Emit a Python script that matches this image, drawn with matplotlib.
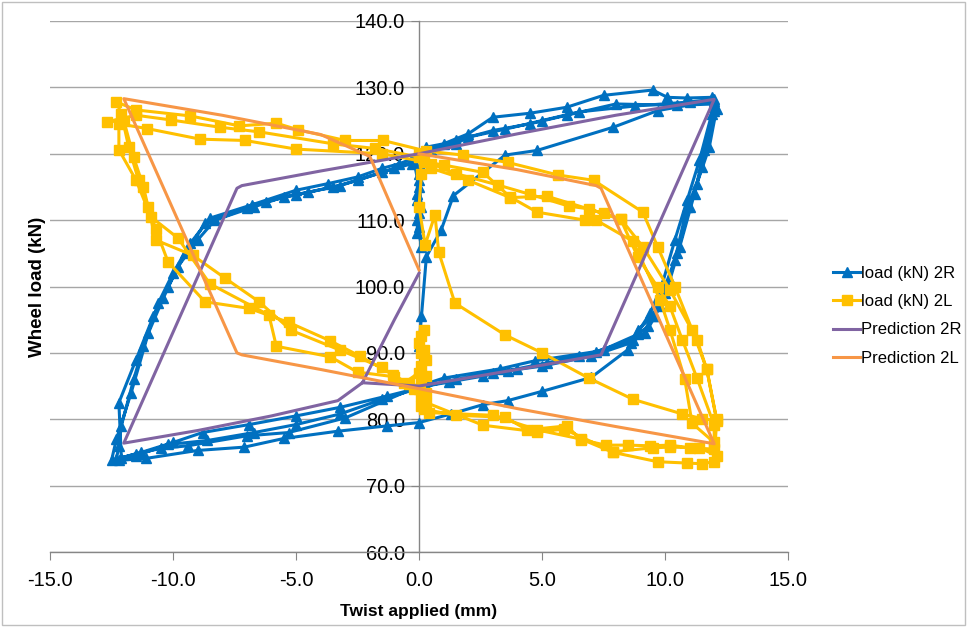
import matplotlib
matplotlib.use("Agg")
import matplotlib.pyplot as plt
from matplotlib.ticker import MultipleLocator, FuncFormatter
from matplotlib.patches import Rectangle

plt.rcParams['font.family'] = ['Liberation Sans', 'DejaVu Sans']

r_start = [(0.1, 88.0), (0.0, 91.0), (0.1, 95.5), (0.3, 104.5), (0.9, 108.5), (1.4, 113.7),
           (3.5, 119.8), (4.8, 120.5), (7.9, 124.0), (9.7, 126.5), (12.0, 128.0)]
r_loop1 = [(12.1, 126.8), (11.8, 121.0), (11.3, 115.5), (10.9, 112.0), (10.4, 104.0), (10.0, 99.0),
           (9.6, 95.5), (9.2, 93.0), (8.6, 91.5), (7.0, 89.5), (5.0, 88.0), (3.6, 87.3), (2.6, 86.5),
           (1.2, 85.6), (0.3, 85.0), (-1.3, 83.5), (-3.2, 81.8), (-5.0, 80.5), (-6.9, 79.2),
           (-8.8, 78.0), (-10.0, 76.5), (-11.3, 75.0), (-12.3, 74.0),
           (-12.2, 76.0), (-12.1, 79.0), (-11.6, 86.0), (-11.2, 91.0), (-10.6, 97.5), (-10.0, 102.0),
           (-9.3, 106.5), (-8.5, 110.3), (-6.8, 112.3), (-5.0, 114.5), (-3.7, 115.5), (-2.5, 116.5),
           (-1.5, 117.8), (-0.8, 118.5), (-0.3, 119.2), (0.0, 117.0), (-0.1, 114.0), (0.0, 111.0),
           (-0.1, 108.0), (0.1, 112.0), (0.0, 116.0), (0.1, 119.5)]
r_loop2 = [(0.5, 120.5), (1.5, 121.5), (2.0, 122.5), (3.5, 123.7), (5.0, 125.0), (6.5, 126.3),
           (8.8, 127.2), (11.0, 127.8), (12.0, 128.2), (12.0, 127.0), (11.6, 120.5), (11.2, 114.0),
           (10.6, 106.0), (10.2, 101.0), (9.8, 97.0), (9.3, 94.0), (8.9, 92.8), (7.5, 90.5),
           (6.5, 89.5), (5.2, 88.5), (4.0, 87.6), (3.0, 87.0), (1.5, 86.0), (0.3, 85.0),
           (-1.5, 83.0), (-3.2, 80.8), (-5.0, 79.2), (-6.7, 78.0), (-8.6, 76.8), (-10.2, 76.2),
           (-11.5, 74.5), (-12.1, 74.2), (-12.2, 82.5), (-11.5, 89.0), (-10.8, 95.5), (-10.2, 100.0),
           (-9.5, 105.0), (-8.7, 109.5), (-7.0, 111.8), (-6.2, 112.8), (-5.0, 113.8), (-3.5, 115.0),
           (-2.5, 116.0), (-1.0, 117.8), (-0.2, 118.8), (0.0, 115.0), (-0.1, 110.0), (0.1, 106.0),
           (0.0, 109.0), (-0.1, 113.0), (0.1, 118.0)]
r_loop3 = [(0.3, 120.6), (1.5, 122.0), (3.0, 123.5), (4.5, 124.5), (6.0, 125.8), (8.0, 127.5),
           (10.5, 127.3), (12.0, 127.5), (11.9, 126.0), (11.4, 119.0), (10.9, 113.0), (10.4, 107.0),
           (9.9, 100.5), (9.4, 96.0), (8.7, 92.0), (7.2, 90.2), (4.7, 88.8), (3.3, 87.6), (1.0, 86.2),
           (0.0, 85.0), (-3.0, 80.2), (-5.3, 78.0), (-7.0, 77.5), (-9.4, 76.0), (-10.5, 75.6),
           (-11.5, 74.8), (-12.5, 73.8), (-12.3, 77.0), (-11.7, 84.0), (-11.0, 93.0), (-10.4, 98.2),
           (-9.8, 103.0), (-9.0, 107.0), (-8.3, 110.0), (-6.7, 112.0), (-5.5, 113.5), (-4.5, 114.2),
           (-3.2, 115.2), (-1.5, 117.2), (-0.3, 118.5), (0.1, 119.8)]
r_loop4 = [(0.3, 121.0), (1.0, 121.5), (2.0, 123.0), (3.0, 125.5), (4.5, 126.1), (6.0, 127.0),
           (7.5, 128.8), (9.5, 129.6), (10.1, 128.5), (10.9, 128.4), (11.9, 128.5), (12.0, 126.5),
           (11.5, 118.0), (11.0, 112.0), (10.5, 105.0), (10.0, 100.0), (9.5, 95.5), (8.9, 93.5),
           (8.5, 90.5), (7.0, 86.3), (5.0, 84.2), (3.6, 82.8), (2.6, 82.2), (1.3, 80.8), (0.0, 79.5),
           (-1.3, 79.0), (-3.3, 78.2), (-5.5, 77.1), (-7.1, 75.8), (-9.0, 75.3), (-11.1, 74.1),
           (-12.2, 73.8)]

# Measured load 2L (yellow squares)
l_start = [(0.0, 120.0), (0.1, 117.0), (0.0, 112.0), (0.25, 106.3), (0.65, 110.8), (0.8, 105.2),
           (1.46, 97.5), (3.5, 92.7), (5.0, 90.0), (6.9, 86.2), (8.7, 83.0), (10.7, 80.8),
           (11.5, 80.1), (12.1, 79.8)]
l_loop1 = [(11.7, 87.5), (11.1, 93.5), (10.4, 100.0), (9.7, 106.0), (9.1, 111.2), (7.1, 116.0),
           (5.65, 116.8), (3.6, 118.7), (1.8, 119.8), (0.3, 120.4), (-1.46, 122.0), (-3.0, 122.0),
           (-4.9, 123.6), (-5.8, 124.6), (-7.3, 124.2), (-9.3, 125.7), (-11.5, 126.6), (-12.3, 127.8),
           (-12.1, 126.0), (-11.8, 121.0), (-11.4, 116.0), (-11.0, 112.0), (-10.7, 108.6),
           (-10.2, 103.7), (-8.7, 97.7), (-6.9, 96.7), (-5.3, 94.6), (-3.6, 91.8), (-2.4, 89.5),
           (-1.05, 86.7), (-0.4, 85.3), (0.1, 88.0), (0.0, 91.5), (0.2, 93.5), (0.1, 90.0),
           (0.3, 86.5), (0.1, 83.5), (0.2, 81.5), (1.5, 80.6), (3.5, 80.3), (4.4, 78.4), (6.0, 79.0),
           (6.6, 76.9), (7.6, 76.1), (8.5, 76.1), (9.4, 76.0), (10.2, 76.1), (11.0, 75.7), (12.0, 75.5)]
l_loop2 = [(12.0, 79.1), (11.3, 86.2), (10.7, 92.0), (10.2, 97.0), (9.7, 99.9), (8.9, 104.4),
           (8.2, 110.1), (6.9, 111.7), (6.1, 112.1), (4.5, 113.9), (3.2, 115.3), (1.5, 117.0),
           (0.5, 118.5), (0.0, 119.5), (-1.8, 120.8), (-3.5, 121.5), (-6.5, 123.3), (-8.1, 124.0),
           (-10.1, 125.1), (-11.5, 125.8), (-12.7, 124.8), (-12.0, 125.0), (-11.6, 119.5),
           (-11.2, 115.0), (-10.7, 107.0), (-9.2, 104.7), (-7.9, 101.3), (-6.5, 97.7), (-5.2, 93.4),
           (-3.2, 90.4), (-1.5, 87.8), (-0.6, 85.5), (0.0, 87.0), (0.2, 90.5), (0.1, 92.5),
           (0.3, 89.0), (0.0, 84.5), (0.3, 82.5), (2.6, 79.1), (4.8, 78.1), (5.9, 78.5), (7.9, 75.1),
           (9.5, 75.7), (10.2, 75.8), (11.4, 75.7), (12.1, 74.5)]
l_loop3 = [(12.0, 76.5), (11.1, 79.4), (10.8, 86.1), (10.2, 93.5), (9.8, 98.0), (8.7, 106.8),
           (7.2, 110.0), (6.75, 110.0), (4.8, 111.2), (3.7, 113.5), (2.6, 117.2), (1.0, 118.3),
           (0.2, 118.8), (-1.5, 120.0), (-5.0, 120.7), (-7.07, 122.0), (-8.9, 122.2), (-11.06, 123.8),
           (-12.2, 124.5), (-12.2, 120.6), (-11.5, 116.0), (-10.9, 110.5), (-9.8, 107.3),
           (-8.5, 100.4), (-6.1, 95.7), (-5.8, 91.0), (-3.6, 89.4), (-2.5, 87.1), (-1.0, 86.4),
           (-0.2, 84.5), (0.1, 86.0), (0.3, 84.0), (0.1, 82.0), (0.4, 81.0), (3.0, 80.6), (4.8, 78.4),
           (6.6, 77.0), (7.9, 75.0), (9.7, 73.6), (10.9, 73.4), (11.5, 73.3), (12.0, 73.6)]
l_loop4 = [(12.1, 80.0), (11.7, 87.5), (11.3, 92.0), (10.2, 99.5), (9.1, 106.0), (8.2, 110.2),
           (7.5, 111.0), (5.2, 113.6), (3.7, 113.4), (2.0, 116.0), (0.5, 117.8)]

# Predictions (lines only)
pred_r = [(0.0, 102.0), (-1.0, 95.0), (-2.3, 85.5), (-3.3, 82.8), (-6.0, 80.5), (-9.0, 78.3),
          (-12.0, 76.4), (-7.4, 114.8), (-7.2, 115.2), (-4.0, 117.4), (0.0, 120.0), (4.0, 123.0),
          (8.0, 125.8), (12.0, 128.2), (7.4, 89.7), (4.0, 87.5), (0.0, 85.0), (-2.3, 85.5)]
pred_l = [(0.0, 102.5), (-2.0, 119.6), (-4.0, 122.9), (-8.0, 125.8), (-12.0, 128.3), (-7.4, 90.0),
          (-7.2, 89.7), (-4.0, 87.5), (0.0, 84.6), (4.0, 81.6), (8.0, 78.9), (12.0, 76.3),
          (7.4, 114.8), (7.2, 115.2), (4.0, 117.6), (0.0, 120.0)]

series_names = ['load (kN) 2R', 'load (kN) 2L', 'Prediction 2R', 'Prediction 2L']


def xs(pts):
    return [p[0] for p in pts]


def ys(pts):
    return [p[1] for p in pts]


r_all = r_start + r_loop1 + r_loop2 + r_loop3 + r_loop4
l_all = l_start + l_loop1 + l_loop2 + l_loop3 + l_loop4

fig = plt.figure(figsize=(9.67, 6.27), dpi=100)
ax = fig.add_axes([50 / 967, 1 - 552 / 627, 738 / 967, 531 / 627])

ax.plot(xs(r_all), ys(r_all), color='#0070C0', lw=2.2, marker='^', ms=7,
        label=series_names[0], zorder=3)
ax.plot(xs(l_all), ys(l_all), color='#FFC000', lw=2.2, marker='s', ms=7,
        label=series_names[1], zorder=3)
ax.plot(xs(pred_r), ys(pred_r), color='#8064A2', lw=2.2, label=series_names[2], zorder=4)
ax.plot(xs(pred_l), ys(pred_l), color='#F79646', lw=2.2, label=series_names[3], zorder=4)

ax.set_xlim(-15, 15)
ax.set_ylim(60, 140)
ax.xaxis.set_major_locator(MultipleLocator(5))
ax.yaxis.set_major_locator(MultipleLocator(10))
ax.xaxis.set_major_formatter(FuncFormatter(lambda v, p: f'{v:.1f}'))
ax.yaxis.set_major_formatter(FuncFormatter(lambda v, p: f'{v:.1f}'))

ax.spines['top'].set_visible(False)
ax.spines['right'].set_visible(False)
ax.spines['left'].set_position(('data', 0))
for s in ['left', 'bottom']:
    ax.spines[s].set_color('#868686')
    ax.spines[s].set_linewidth(1.0)

ax.grid(True, axis='y', color='#a6a6a6', lw=1.0)
ax.set_axisbelow(True)
ax.tick_params(axis='both', direction='out', length=6, color='#868686', labelsize=14.5)
ax.tick_params(axis='x', pad=8)
ax.tick_params(axis='y', pad=4)

ax.set_xlabel('Twist applied (mm)', fontsize=12.5, fontweight='bold')
ax.set_ylabel('Wheel load (kN)', fontsize=13.5, fontweight='bold')
ax.xaxis.set_label_coords(0.5, -0.097)
ax.yaxis.set_label_coords(-0.006, 0.5)

ax.legend(loc='center left', bbox_to_anchor=(1.05, 0.445), frameon=False, fontsize=12,
          handlelength=1.6, handletextpad=0.05, labelspacing=0.8, borderpad=0)

fig.add_artist(Rectangle((0.002, 0.003), 0.996, 0.994, transform=fig.transFigure,
                         fill=False, edgecolor='#bfbfbf', lw=1.0))

fig.savefig('out.png', dpi=100)
